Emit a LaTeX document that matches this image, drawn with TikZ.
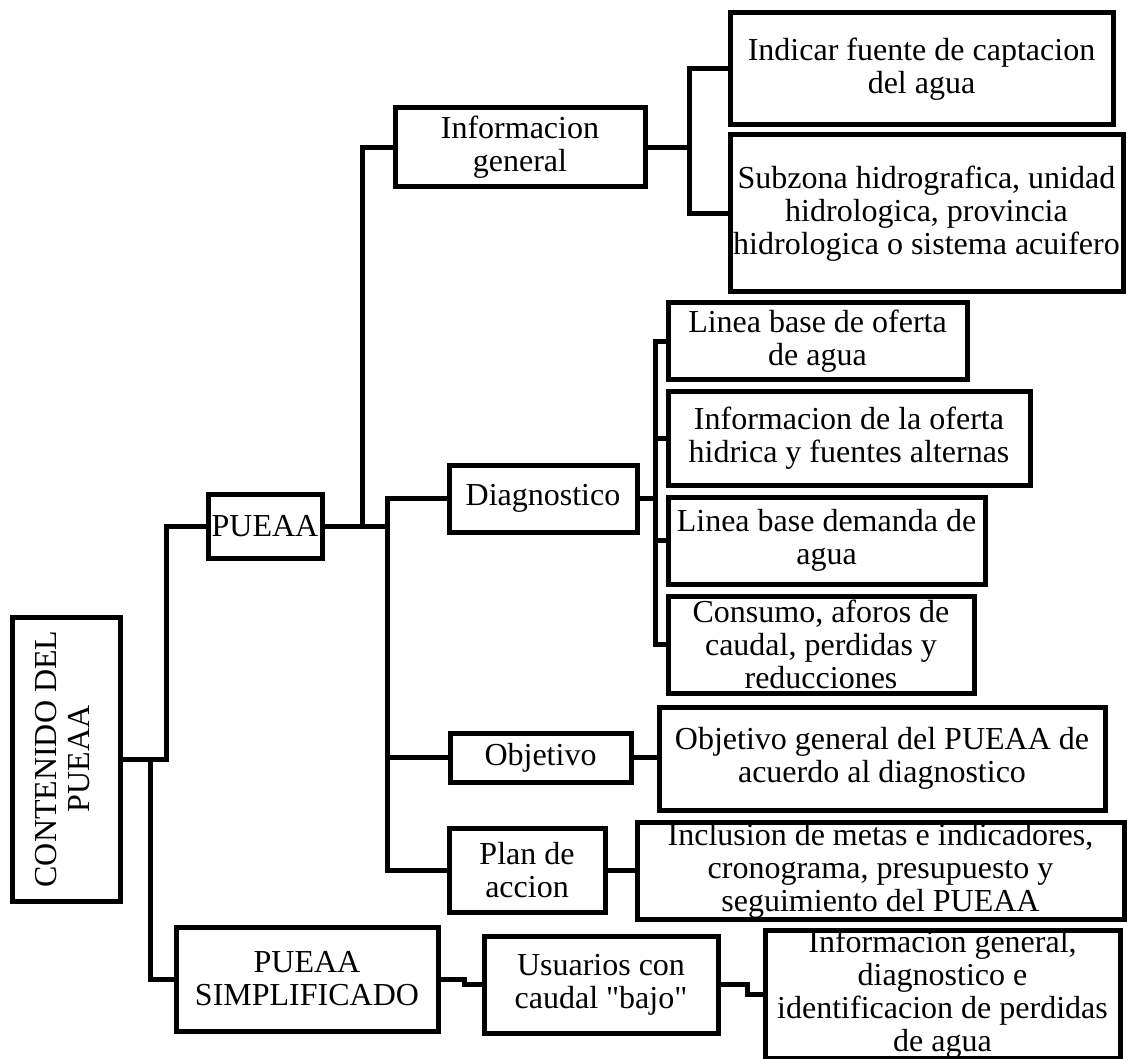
\documentclass[tikz,border=0pt]{standalone}
\usepackage{fontspec}
\setmainfont{Liberation Serif}
\usepackage{graphicx}
\usepackage{tikz}

\tikzset{
  caja/.style={draw, line width=5pt, inner sep=0pt, align=center,
    font=\fontsize{32}{33}\selectfont},
  linea/.style={line width=5pt},
}

\begin{document}
\begin{tikzpicture}[x=1pt, y=-1pt]
  \useasboundingbox (0,0) rectangle (1127,1059);

  \node[caja, minimum width=108pt, minimum height=284pt] (contenido) at (66,759)
    {\rotatebox{90}{\begin{tabular}{@{}c@{}}CONTENIDO DEL\\PUEAA\end{tabular}}};
  \node[caja, minimum width=114pt, minimum height=64pt] (pueaa) at (265,526) {PUEAA};
  \node[caja, minimum width=262pt, minimum height=104pt] (simpl) at (307,979) {PUEAA\\SIMPLIFICADO};

  \node[caja, minimum width=250pt, minimum height=79pt] (infogen) at (520,147.5) {Informacion\\general};
  \node[caja, minimum width=383pt, minimum height=112pt] (indicar) at (921.5,69) {Indicar fuente de captacion\\del agua};
  \node[caja, minimum width=393pt, minimum height=157pt] (subzona) at (926.5,213.5) {Subzona hidrografica, unidad\\hidrologica, provincia\\hidrologica o sistema acuifero};

  \node[caja, minimum width=188pt, minimum height=67pt] (diag) at (543,498.5) {Diagnostico};
  \node[caja, minimum width=299pt, minimum height=76pt] (lineaofe) at (817.5,341) {Linea base de oferta\\de agua};
  \node[caja, minimum width=362pt, minimum height=94pt] (infoofe) at (849,438) {Informacion de la oferta\\hidrica y fuentes alternas};
  \node[caja, minimum width=317pt, minimum height=87pt] (lineadem) at (826.5,540.5) {Linea base demanda de\\agua};
  \node[caja, minimum width=306pt, minimum height=97pt] (consumo) at (821,644.5) {Consumo, aforos de\\caudal, perdidas y\\reducciones};

  \node[caja, minimum width=181pt, minimum height=49pt] (objetivo) at (540.5,757.5) {Objetivo};
  \node[caja, minimum width=446pt, minimum height=103pt] (objgen) at (882,758.5) {Objetivo general del PUEAA de\\acuerdo al diagnostico};

  \node[caja, minimum width=156pt, minimum height=84pt] (plan) at (527,870) {Plan de\\accion};
  \node[caja, minimum width=487pt, minimum height=97pt] (inclusion) at (880.5,870.5) {Inclusion de metas e indicadores,\\cronograma, presupuesto y\\seguimiento del PUEAA};

  \node[caja, minimum width=234pt, minimum height=97pt] (usuarios) at (601,984.5) {Usuarios con\\caudal \textquotedbl bajo\textquotedbl};
  \node[caja, minimum width=355pt, minimum height=127pt] (infodiag) at (942.5,994.5) {Informacion general,\\diagnostico e\\identificacion de perdidas\\de agua};

  \draw[linea] (contenido.east) -- ++(44,0) |- (pueaa.west);
  \draw[linea] (contenido.east) -- ++(28,0) |- (simpl.west);

  \draw[linea] (pueaa.east) -- ++(38,0) coordinate (ramaA) -- ++(25,0) coordinate (ramaB);
  \draw[linea] (ramaA) |- (infogen.west);
  \foreach \n in {diag,objetivo,plan}
    \draw[linea] (ramaB) |- (\n.west);

  \draw[linea] (infogen.east) -- ++(42,0) coordinate (ramaC);
  \foreach \n in {indicar,subzona}
    \draw[linea] (ramaC) |- (\n.west);

  \draw[linea] (diag.east) -- ++(16,0) coordinate (ramaD);
  \foreach \n in {lineaofe,infoofe,lineadem,consumo}
    \draw[linea] (ramaD) |- (\n.west);

  \draw[linea] (objetivo.east) -- (objetivo.east -| objgen.west);
  \draw[linea] (plan.east) -- (plan.east -| inclusion.west);

  \draw[linea] (simpl.east) -- ++(24,0) |- (usuarios.west);
  \draw[linea] (usuarios.east) -- ++(27,0) |- (infodiag.west);
\end{tikzpicture}
\end{document}
